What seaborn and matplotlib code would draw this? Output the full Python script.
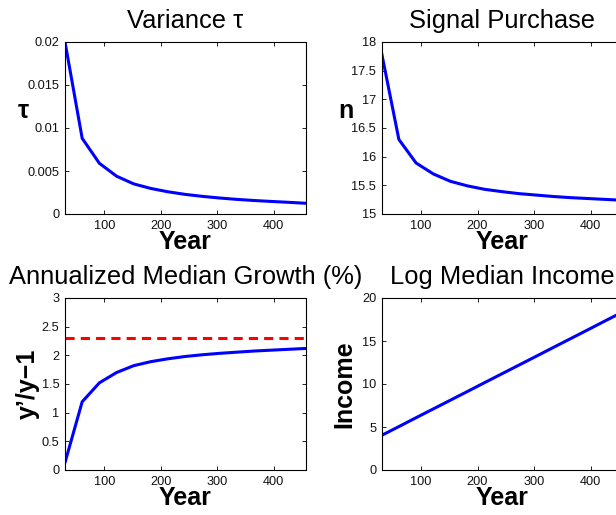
import matplotlib
matplotlib.use("Agg")
import matplotlib.pyplot as plt
import seaborn as sns
import pandas as pd

# ---- data ----
years = [30.4, 60.8, 91.2, 121.6, 152.0, 182.4, 212.8, 243.2, 273.6, 304.0,
         334.4, 364.8, 395.2, 425.6, 456.0]
variance_tau = [0.0200, 0.0088, 0.0059, 0.0044, 0.0035, 0.00297, 0.00258, 0.00228,
                0.00205, 0.00186, 0.0017, 0.00157, 0.00146, 0.00136, 0.00125]
signal_n = [17.80, 16.30, 15.89, 15.70, 15.57, 15.49, 15.43, 15.39, 15.355, 15.33,
            15.305, 15.285, 15.27, 15.255, 15.24]
growth_pct = [0.13, 1.19, 1.52, 1.70, 1.82, 1.89, 1.94, 1.98, 2.01, 2.035,
              2.055, 2.075, 2.09, 2.105, 2.12]
growth_ref = 2.3
log_income = [4.03, 5.05, 6.08, 7.10, 8.12, 9.14, 10.17, 11.19, 12.21, 13.23,
              14.26, 15.28, 16.30, 17.33, 18.35]

x_ticks = [100, 200, 300, 400]
tau_ticks = [0, 0.005, 0.01, 0.015, 0.02]
tau_labels = ["0", "0.005", "0.01", "0.015", "0.02"]
n_ticks = [15, 15.5, 16, 16.5, 17, 17.5, 18]
n_labels = ["15", "15.5", "16", "16.5", "17", "17.5", "18"]
g_ticks = [0, 0.5, 1, 1.5, 2, 2.5, 3]
g_labels = ["0", "0.5", "1", "1.5", "2", "2.5", "3"]
inc_ticks = [0, 5, 10, 15, 20]
inc_labels = ["0", "5", "10", "15", "20"]

titles = ["Variance \u03c4", "Signal Purchase",
          "Annualized Median Growth (%)", "Log Median Income"]

df = pd.DataFrame({"Year": years, "tau": variance_tau, "n": signal_n,
                   "growth": growth_pct, "income": log_income})

sns.set_theme(style="white")
plt.rcParams["font.family"] = ["Liberation Sans", "DejaVu Sans"]
plt.rcParams["axes.edgecolor"] = "black"
plt.rcParams["axes.linewidth"] = 0.8
plt.rcParams["text.color"] = "black"
plt.rcParams["axes.labelcolor"] = "black"
plt.rcParams["axes.titlecolor"] = "black"

fig = plt.figure(figsize=(6.16, 5.15), dpi=100)
W, H = 616, 515

def make_ax(left_px, top_px):
    return fig.add_axes([left_px / W, (H - top_px - 172) / H, 240.5 / W, 172 / H])

ax1 = make_ax(65, 42)
ax2 = make_ax(381.7, 42)
ax3 = make_ax(65, 298)
ax4 = make_ax(381.7, 298)

blue = "#0000ff"
lw = 2.2
sns.lineplot(data=df, x="Year", y="tau", ax=ax1, color=blue, linewidth=lw)
sns.lineplot(data=df, x="Year", y="n", ax=ax2, color=blue, linewidth=lw)
sns.lineplot(data=df, x="Year", y="growth", ax=ax3, color=blue, linewidth=lw)
ax3.axhline(growth_ref, color="#ff0000", linewidth=lw, dashes=(3.0, 2.0))
sns.lineplot(data=df, x="Year", y="income", ax=ax4, color=blue, linewidth=lw)

specs = [(ax1, tau_ticks, tau_labels, (0, 0.02)),
         (ax2, n_ticks, n_labels, (15, 18)),
         (ax3, g_ticks, g_labels, (0, 3)),
         (ax4, inc_ticks, inc_labels, (0, 20))]

for (ax, yt, yl, ylim), title in zip(specs, titles):
    ax.set_xlim(years[0], years[-1])
    ax.set_ylim(*ylim)
    ax.set_xticks(x_ticks)
    ax.set_xticklabels([str(t) for t in x_ticks])
    ax.set_yticks(yt)
    ax.set_yticklabels(yl)
    ax.tick_params(direction="in", length=3, width=0.6,
                   bottom=True, left=True, top=True, right=True,
                   labelsize=9.2, pad=4, colors="black", labelcolor="#111111")
    for s in ax.spines.values():
        s.set_visible(True)
        s.set_color("black")
        s.set_linewidth(0.8)
    ax.set_title(title, fontsize=18.4, pad=10, color="black")
    ax.set_xlabel("Year", fontsize=18, fontweight="bold", labelpad=-1)

ax1.set_ylabel("\u03c4", fontsize=18, fontweight="bold", rotation=0,
               ha="right", va="center")
ax1.yaxis.set_label_coords(-0.152, 0.6)
ax2.set_ylabel("n", fontsize=18, fontweight="bold", rotation=0,
               ha="right", va="center")
ax2.yaxis.set_label_coords(-0.118, 0.6)
ax3.set_ylabel("y\u2019/y\u22121", fontsize=18, fontweight="bold",
               rotation=90, ha="center", va="center")
ax3.yaxis.set_label_coords(-0.156, 0.5)
ax4.set_ylabel("Income", fontsize=18, fontweight="bold",
               rotation=90, ha="center", va="center")
ax4.yaxis.set_label_coords(-0.157, 0.5)

fig.savefig("out.png", dpi=100)
